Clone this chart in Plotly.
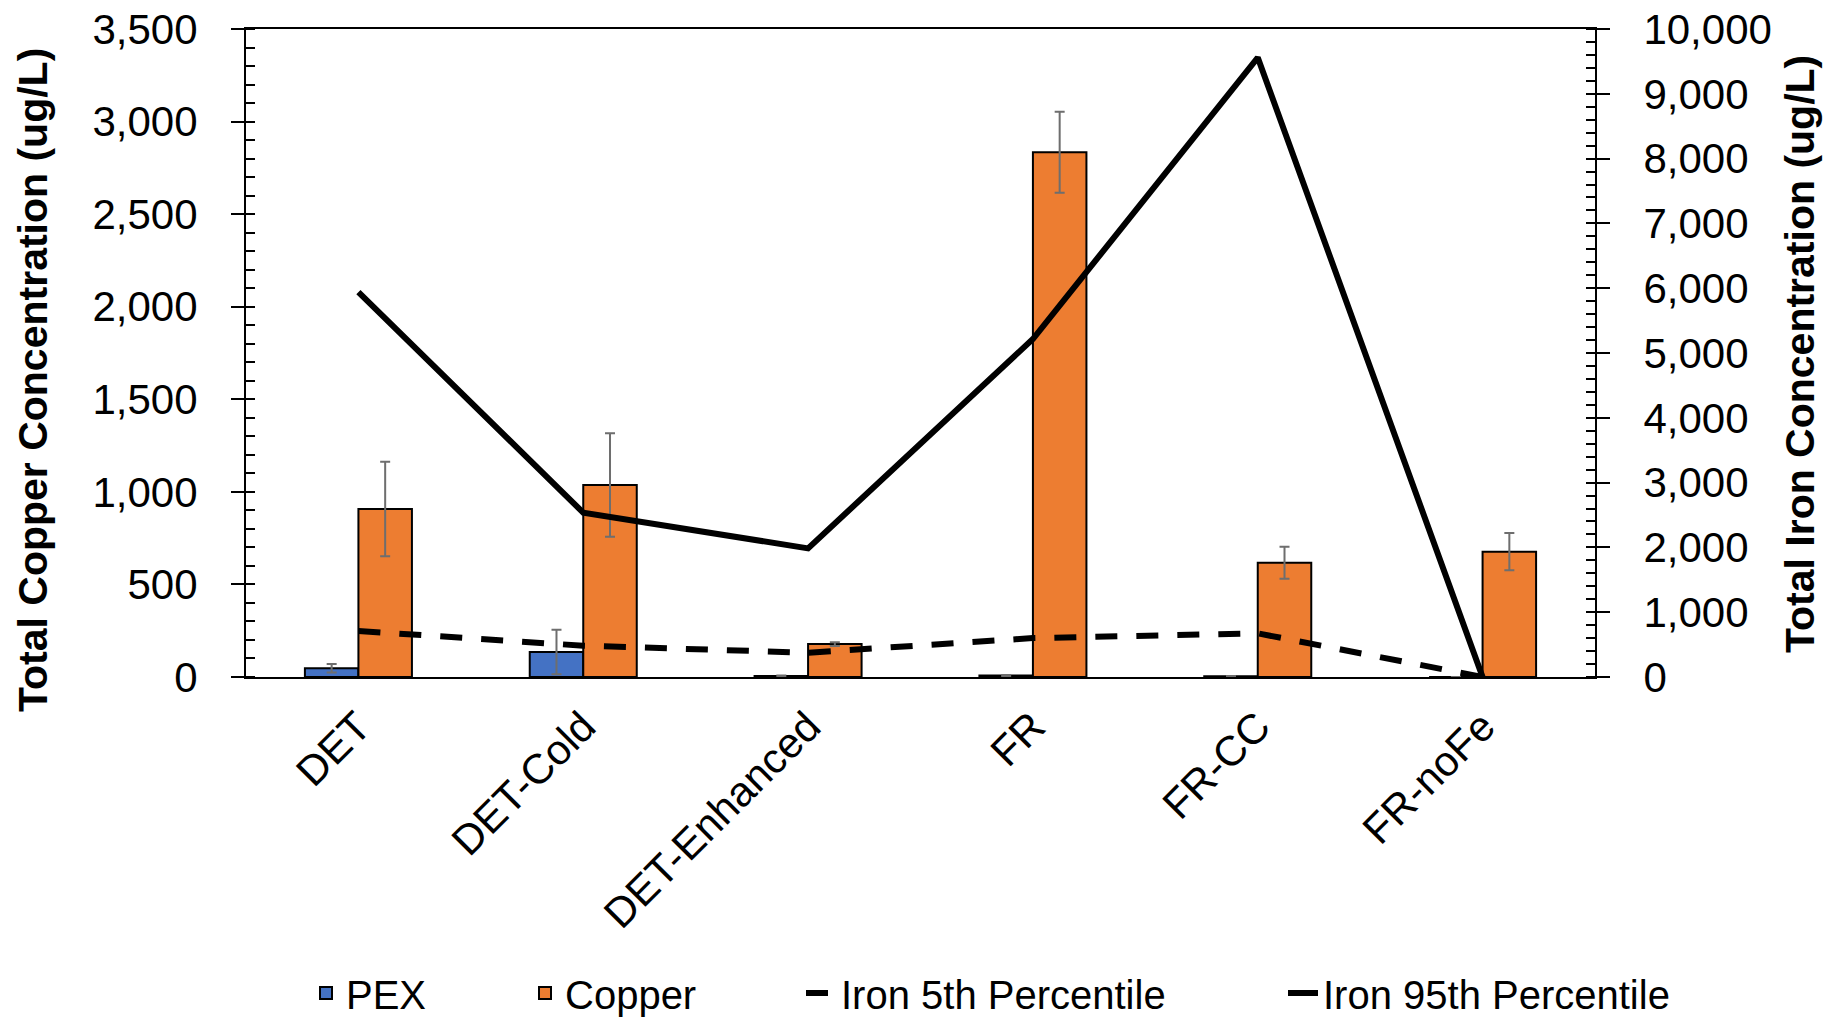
import plotly.graph_objects as go

categories = ["DET", "DET-Cold", "DET-Enhanced", "FR", "FR-CC", "FR-noFe"]
pex = [47, 135, 5, 8, 4, 0]
pex_err = [23, 120, 3, 3, 2, 0]
copper = [907, 1037, 178, 2834, 617, 677]
copper_err = [255, 280, 10, 219, 87, 101]
iron_p5 = [710, 483, 375, 600, 674, 0]
iron_p95 = [5941, 2536, 1985, 5216, 9560, 0]
left_ticks = [0, 500, 1000, 1500, 2000, 2500, 3000, 3500]
right_ticks = [0, 1000, 2000, 3000, 4000, 5000, 6000, 7000, 8000, 9000, 10000]

FONT = "Liberation Sans, Arial, sans-serif"
ERR_COLOR = "#6e6e6e"

fig = go.Figure()
fig.add_trace(go.Bar(
    x=categories, y=pex, name="PEX", legend="legend",
    marker=dict(color="#4472C4", line=dict(color="black", width=2)),
    error_y=dict(type="data", array=pex_err, color=ERR_COLOR, thickness=2, width=5),
))
fig.add_trace(go.Bar(
    x=categories, y=copper, name="Copper", legend="legend2",
    marker=dict(color="#ED7D31", line=dict(color="black", width=2)),
    error_y=dict(type="data", array=copper_err, color=ERR_COLOR, thickness=2, width=5),
))
fig.add_trace(go.Scatter(
    x=categories, y=iron_p5, name="Iron 5th Percentile", legend="legend3", yaxis="y2",
    mode="lines", line=dict(color="black", width=6, dash="22px,19px"),
))
fig.add_trace(go.Scatter(
    x=categories, y=iron_p95, name="Iron 95th Percentile", legend="legend4", yaxis="y2",
    mode="lines", line=dict(color="black", width=6),
))

W, H = 1839, 1017
L, R, T, B = 246, 244, 29, 340
pw, ph = W - L - R, H - T - B


def px_x(p):
    return (p - L) / pw


def px_y(p):
    return (H - B - p) / ph


leg_common = dict(orientation="h", xanchor="left", yanchor="middle",
                  font=dict(family=FONT, size=40, color="black"),
                  bgcolor="rgba(0,0,0,0)", borderwidth=0)
ly = px_y(993)

fig.update_layout(
    width=W, height=H,
    margin=dict(l=L, r=R, t=T, b=B, autoexpand=False),
    paper_bgcolor="white", plot_bgcolor="white",
    font=dict(family=FONT, color="black"),
    barmode="group", bargap=0.524, bargroupgap=0,
    showlegend=True,
    legend=dict(x=px_x(351 - 45), y=ly, **leg_common),
    legend2=dict(x=px_x(570 - 45), y=ly, **leg_common),
    legend3=dict(x=px_x(846 - 45), y=ly, **leg_common),
    legend4=dict(x=px_x(1328 - 45), y=ly, **leg_common),
    xaxis=dict(
        showline=True, linecolor="black", linewidth=2, mirror=True,
        showgrid=False, ticks="", tickangle=-45,
        tickfont=dict(family=FONT, size=42, color="black"),
        ticklabelstandoff=6, automargin=False,
    ),
    yaxis=dict(
        range=[0, 3500], tickvals=left_ticks, tickformat=",",
        showline=True, linecolor="black", linewidth=2,
        showgrid=False, zeroline=False, automargin=False,
        ticks="outside", ticklen=13, tickwidth=2, tickcolor="black",
        minor=dict(dtick=100, ticks="inside", ticklen=9, tickwidth=2, tickcolor="black"),
        tickfont=dict(family=FONT, size=42, color="black"),
        ticklabelstandoff=25,
    ),
    yaxis2=dict(
        range=[0, 10000], tickvals=right_ticks, tickformat=",",
        overlaying="y", side="right",
        showline=True, linecolor="black", linewidth=2,
        showgrid=False, zeroline=False, automargin=False,
        ticks="outside", ticklen=13, tickwidth=2, tickcolor="black",
        minor=dict(dtick=200, ticks="inside", ticklen=9, tickwidth=2, tickcolor="black"),
        tickfont=dict(family=FONT, size=42, color="black"),
        ticklabelstandoff=25,
    ),
    annotations=[
        dict(text="<b>Total Copper Concentration (ug/L)</b>", textangle=-90,
             xref="paper", yref="paper", x=px_x(33), y=px_y(380),
             xanchor="center", yanchor="middle", showarrow=False,
             font=dict(family=FONT, size=41, color="black")),
        dict(text="<b>Total Iron Concentration (ug/L)</b>", textangle=-90,
             xref="paper", yref="paper", x=px_x(1800), y=px_y(354),
             xanchor="center", yanchor="middle", showarrow=False,
             font=dict(family=FONT, size=41, color="black")),
    ],
)

fig.write_html("out.html")
